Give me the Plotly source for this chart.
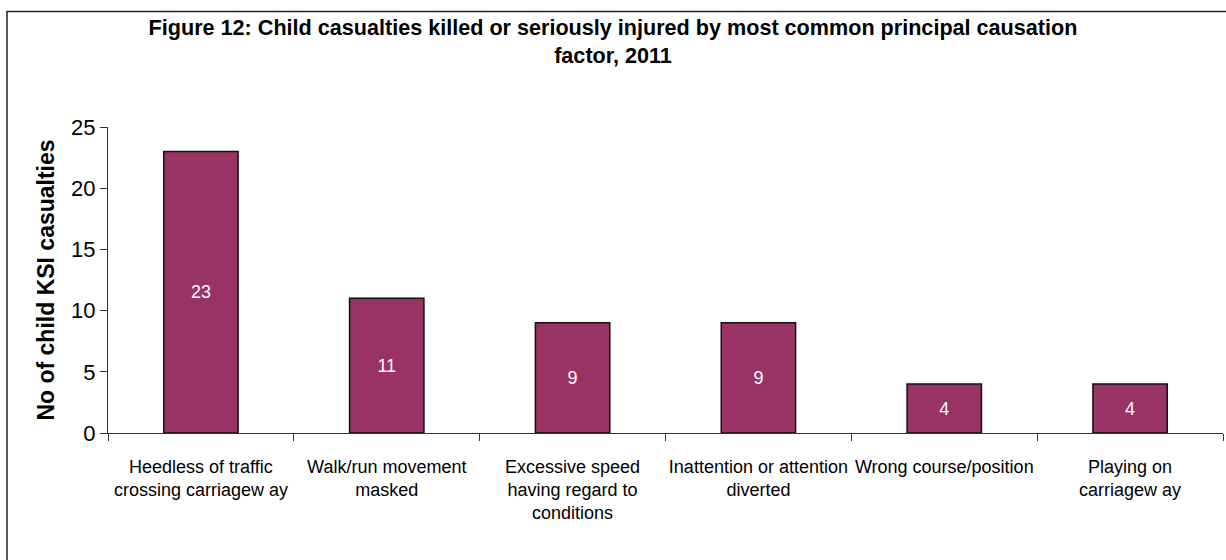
import plotly.graph_objects as go

categories = [
    "Heedless of traffic<br>crossing carriagew ay",
    "Walk/run movement<br>masked",
    "Excessive speed<br>having regard to<br>conditions",
    "Inattention or attention<br>diverted",
    "Wrong course/position",
    "Playing on<br>carriagew ay",
]
values = [23, 11, 9, 9, 4, 4]
y_ticks = [0, 5, 10, 15, 20, 25]

SANS = "Liberation Sans, Arial, sans-serif"

fig = go.Figure(
    go.Bar(
        x=categories,
        y=values,
        text=[str(v) for v in values],
        textposition="inside",
        insidetextanchor="middle",
        textfont=dict(color="white", size=18, family=SANS),
        marker=dict(color="#993366", line=dict(color="#111111", width=1.5)),
        cliponaxis=False,
    )
)

fig.update_layout(
    width=1226,
    height=560,
    margin=dict(l=108, r=3, t=127, b=127),
    plot_bgcolor="white",
    paper_bgcolor="white",
    bargap=0.6,
    showlegend=False,
    uniformtext=dict(minsize=18, mode="show"),
    title=dict(
        text="<b>Figure 12: Child casualties killed or seriously injured by most common principal causation<br>factor, 2011</b>",
        x=0.5,
        xanchor="center",
        y=1 - 35 / 560,
        yanchor="top",
        font=dict(family=SANS, size=21.6, color="black"),
    ),
    shapes=[
        dict(
            type="rect",
            xref="paper",
            yref="paper",
            x0=(7 - 108) / 1115,
            x1=(1240 - 108) / 1115,
            y0=(433 - 580) / 306,
            y1=(433 - 11.5) / 306,
            line=dict(color="#222222", width=1.5),
            fillcolor="rgba(0,0,0,0)",
            layer="below",
        )
    ],
)

fig.update_xaxes(
    showline=True,
    linecolor="#333333",
    linewidth=1,
    ticks="outside",
    tickson="boundaries",
    ticklen=7,
    tickcolor="#333333",
    tickfont=dict(family=SANS, size=18, color="black"),
    ticklabelstandoff=17,
    tickangle=0,
    showgrid=False,
)

fig.update_yaxes(
    range=[0, 25],
    tickvals=y_ticks,
    showline=True,
    linecolor="#333333",
    linewidth=1,
    ticks="outside",
    ticklen=7,
    tickcolor="#333333",
    tickfont=dict(family=SANS, size=22, color="black"),
    showgrid=False,
    zeroline=False,
    title=dict(
        text="<b>No of child KSI casualties</b>",
        font=dict(family=SANS, size=23, color="black"),
        standoff=10,
    ),
)

fig.write_html("out.html")
